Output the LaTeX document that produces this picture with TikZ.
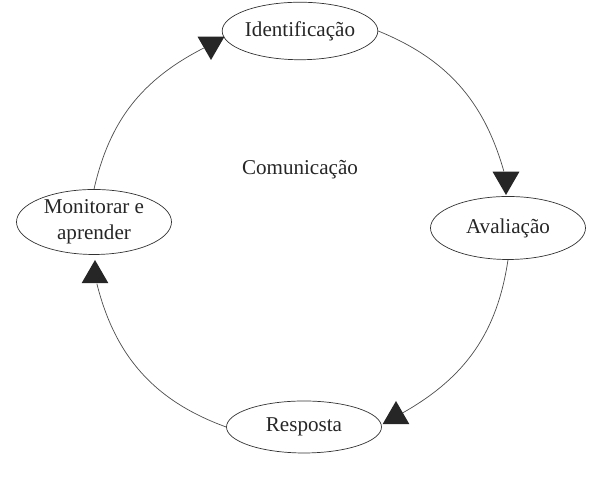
\documentclass[tikz,border=0pt]{standalone}
\usepackage{fontspec}
\setmainfont{Liberation Serif}
\usepackage{tikz}
\usetikzlibrary{shapes.geometric, positioning}

\begin{document}
\begin{tikzpicture}
    % Stage styles
    \tikzstyle{stage} = [ellipse, draw=black!80, thin, text=black!85, font=\fontsize{12}{14.5}\selectfont, inner sep=0pt, minimum width=3.1cm, minimum height=1.15cm, align=center]
    \tikzstyle{arrowhead} = [regular polygon, regular polygon sides=3, fill=black!85, inner sep=0pt, minimum size=0.62cm]
    \tikzstyle{flow} = [draw=black!70, thin]
    \useasboundingbox (0,0) rectangle (12,9.54);
    % Stages round the cycle
    \node[stage] (iden) at (6,8.92) {Identificação};
    \node[stage, minimum height=1.26cm] (aval) at (10.16,4.98) {Avaliação};
    \node[stage, minimum height=1.04cm] (resp) at (6.08,1.0) {Resposta};
    \node[stage, minimum height=1.3cm] (moni) at (1.88,5.1) {Monitorar e\\aprender};
    \node[text=black!85, font=\fontsize{12}{14.5}\selectfont] (comm) at (6,6.14) {Comunicação};
    % Arrow heads
    \node[arrowhead, shape border rotate=180] (iden_tip) at (4.22,8.65) {};
    \node[arrowhead, shape border rotate=180] (aval_tip) at (10.12,5.95) {};
    \node[arrowhead] (resp_tip) at (7.92,1.21) {};
    \node[arrowhead] (moni_tip) at (1.9,4.03) {};
    % Connections
    \draw[flow] (moni.north) to[bend left=25] (iden_tip);
    \draw[flow] (iden.east) to[bend left=26] (aval_tip);
    \draw[flow] (aval.south) to[bend left=26] (resp_tip);
    \draw[flow] (resp.west) to[bend left=28] (moni_tip);
\end{tikzpicture}
\end{document}
